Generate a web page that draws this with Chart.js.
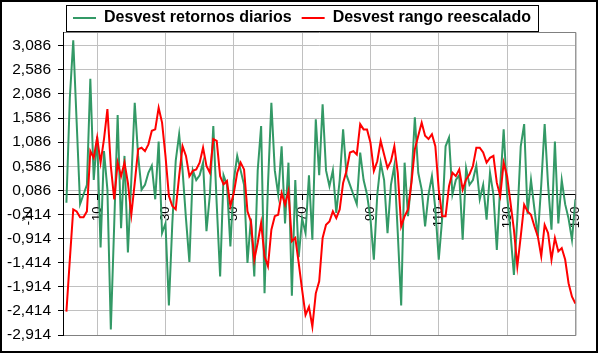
<!DOCTYPE html>
<html><head><meta charset="utf-8">
<script src="https://cdn.jsdelivr.net/npm/chart.js@4/dist/chart.umd.min.js"></script>
<style>html,body{margin:0;padding:0;background:#fff;overflow:hidden}#wrap{width:598px;height:353px;position:relative}</style>
</head><body><div id="wrap"><canvas id="c" width="598" height="353"></canvas></div>
<script>
// categories (day index)
const days = Array.from({length: 150}, (_, i) => i + 1);
const seriesNames = ['Desvest retornos diarios', 'Desvest rango reescalado'];
const desvestRetornos = [
 -0.17, 2.0, 3.2, 1.5, -0.2, 0.0, 0.2, 2.4, 0.3, 1.2,
 -1.1, 0.9, 0.1, -2.8, -0.6, 1.65, -0.7, 0.8, -1.2, 0.3,
 1.9, 0.8, 0.1, 0.2, 0.45, 0.6, -0.1, 1.1, -0.8, -0.6,
 -2.3, -0.6, 0.7, 1.25, 0.5, -0.5, -1.4, 0.5, 0.3, 0.4,
 0.66, -0.76, 0.0, 1.42, -0.2, -1.7, 0.4, 0.2, -1.08, 0.3,
 0.8, 0.5, 0.2, -1.42, -0.5, -1.7, 0.5, 1.42, -2.05, 0.2,
 1.9, 0.5, 0.0, 1.0, -0.6, 0.66, -2.1, 0.3, -1.3, -0.5,
 -0.8, 0.4, -0.94, 1.56, 0.4, 1.87, 0.5, 0.17, 0.5, -0.38,
 0.3, 1.35, 0.4, 0.2, 0.0, -0.2, 0.87, 0.3, 0.0, -0.5,
 -1.35, 0.0, 0.66, 0.3, -0.8, 0.2, 0.6, -0.8, -2.3, 0.66,
 -0.45, 0.3, 1.6, 0.45, 0.1, -0.66, 0.0, 0.38, -0.3, -1.35,
 -0.5, 1.0, 1.18, 0.0, 0.3, 0.4, -0.94, 0.55, 0.2, 0.3,
 0.6, -0.1, 0.2, -0.52, 0.45, 0.0, -1.15, 0.2, 1.35, 0.0,
 -0.8, -1.67, -0.5, 1.0, 1.46, -0.4, 0.3, -0.3, -0.87, 0.2,
 1.46, 0.2, -0.73, 1.1, -0.6, 0.3, -0.2, -0.5, -0.94, -0.1
];
const desvestRango = [
 -2.43, -1.35, -0.31, -0.35, -0.47, -0.47, -0.35, 0.9, 0.76, 1.18,
 0.66, 1.15, 1.77, 0.59, -0.1, 0.66, 0.38, 0.66, 0.24, -0.42,
 0.24, 0.94, 0.97, 0.9, 1.04, 1.32, 1.35, 1.8, 1.49, 0.8,
 -0.03, -0.24, -0.31, 0.38, 1.0, 0.8, 0.38, 0.49, 0.52, 0.66,
 0.97, 0.59, 0.45, 1.15, 1.11, 0.38, 0.21, 0.28, -0.24, 0.03,
 0.45, 0.66, 0.52, -0.35, -0.56, -1.35, -1.0, -0.59, -1.28, -1.49,
 -0.73, -0.45, -0.42, 0.03, -0.21, 0.07, -0.97, -0.9, -1.42, -1.98,
 -2.5, -2.33, -2.74, -2.05, -1.8, -0.9, -0.63, -0.56, -0.35, -0.49,
 -0.31, 0.24, 0.49, 0.87, 0.9, 0.83, 1.46, 1.35, 1.35, 1.08,
 0.49, 0.69, 1.11, 0.83, 0.55, 0.69, 1.0, 0.45, -0.66, -0.45,
 -0.31, 0.24, 0.94, 1.22, 1.49, 1.22, 1.15, 1.25, 1.0, 0.1,
 -0.45, -0.45, 0.17, 0.45, 0.38, 0.52, 0.1, 0.31, 0.42, 0.59,
 0.97, 0.97, 0.87, 0.66, 0.76, 0.8, 0.24, -0.03, 0.66, 0.38,
 -0.17, -0.73, -1.49, -0.87, -0.21, -0.35, -0.42, -0.66, -0.87, -1.28,
 -0.63, -0.8, -1.35, -0.9, -1.18, -1.11, -1.35, -1.84, -2.12, -2.26
];
const yTicks = [-2.914, -2.414, -1.914, -1.414, -0.914, -0.414, 0.086, 0.586, 1.086, 1.586, 2.086, 2.586, 3.086];
const xTicks = [-10, 10, 30, 50, 70, 90, 110, 130, 150];

const FONT = "'Liberation Sans', Arial, sans-serif";
const fmtY = v => v.toFixed(3).replace('.', ',');

const bgPlugin = {
  id: 'bg',
  beforeDraw(chart) {
    const c = chart.ctx;
    c.save(); c.fillStyle = '#fff'; c.fillRect(0, 0, chart.width, chart.height); c.restore();
  }
};
const framePlugin = {
  id: 'frame',
  afterLayout(chart) {
    // centre the legend row over the same span as in the reference
    if (chart.legend) { chart.legend.left = 24; }
  },
  beforeDatasetsDraw(chart) {
    const c = chart.ctx, a = chart.chartArea;
    c.save();
    c.strokeStyle = '#808080'; c.lineWidth = 1;
    c.beginPath();
    c.moveTo(a.left, a.top + 0.5);
    c.lineTo(a.right + 0.5, a.top + 0.5);
    c.lineTo(a.right + 0.5, a.bottom + 0.5);
    c.lineTo(a.left, a.bottom + 0.5);
    c.stroke();
    c.strokeStyle = '#000';
    c.beginPath();
    c.moveTo(a.left + 0.5, a.top);
    c.lineTo(a.left + 0.5, a.bottom + 1);
    c.stroke();
    c.restore();
  },
  afterDraw(chart) {
    const c = chart.ctx;
    c.save();
    // outer border
    c.strokeStyle = '#000'; c.lineWidth = 2;
    c.strokeRect(1, 1, 596, 351);
    // legend border
    const hb = chart.legend.legendHitBoxes;
    if (hb && hb.length) {
      const l = Math.min(...hb.map(h => h.left)) - 7;
      const r = Math.max(...hb.map(h => h.left + h.width)) + 7;
      c.lineWidth = 1;
      c.strokeRect(Math.round(l) + 0.5, 5.5, Math.round(r - l), 26);
    }
    // the out-of-range first category label
    const xs = chart.scales.x, ys = chart.scales.y;
    const x = xs.getPixelForValue(xTicks[0]);
    const y = ys.getPixelForValue(0) + 5 + 7;
    c.translate(x, y);
    c.rotate(-Math.PI / 2);
    c.font = '13px ' + FONT;
    c.fillStyle = '#000';
    c.textAlign = 'right';
    c.textBaseline = 'middle';
    c.fillText(String(xTicks[0]), 0, 0);
    c.restore();
  }
};

new Chart(document.getElementById('c'), {
  type: 'line',
  data: {
    labels: days,
    datasets: [
      { label: seriesNames[0], data: desvestRetornos, borderColor: '#339966', backgroundColor: '#339966',
        borderWidth: 2, pointRadius: 0, tension: 0, order: 2 },
      { label: seriesNames[1], data: desvestRango, borderColor: '#ff0000', backgroundColor: '#ff0000',
        borderWidth: 2, pointRadius: 0, tension: 0, order: 1 }
    ]
  },
  options: {
    responsive: false, animation: false, devicePixelRatio: 1,
    layout: { padding: { left: 0, right: 18, top: 0, bottom: 18 } },
    plugins: {
      legend: {
        position: 'top', maxHeight: 32,
        labels: {
          usePointStyle: true, pointStyle: 'line', pointStyleWidth: 23, padding: 10,
          color: '#000', font: { family: FONT, size: 16, weight: 'bold' },
          sort: (a, b) => a.datasetIndex - b.datasetIndex
        }
      },
      tooltip: { enabled: false }
    },
    scales: {
      x: {
        type: 'linear', min: 0, max: 150, position: { y: 0 },
        afterBuildTicks: s => { s.ticks = xTicks.filter(v => v >= 0).map(v => ({ value: v })); },
        grid: { color: '#c0c0c0', lineWidth: 1, tickLength: 5, tickColor: '#000' },
        border: { color: '#000', width: 1 },
        ticks: { minRotation: 90, maxRotation: 90, padding: 7, autoSkip: false, color: '#000',
                 font: { family: FONT, size: 13 }, callback: v => String(v) }
      },
      y: {
        min: -2.914, max: 3.37,
        afterBuildTicks: s => { s.ticks = yTicks.map(v => ({ value: v })); },
        afterFit: s => { s.width = 63; },
        grid: { color: '#c0c0c0', lineWidth: 1, tickLength: 5, tickColor: '#000' },
        border: { color: '#000', width: 1 },
        ticks: { padding: 7, autoSkip: false, color: '#000', font: { family: FONT, size: 15.5 },
                 callback: v => fmtY(v) }
      }
    }
  },
  plugins: [bgPlugin, framePlugin]
});
</script></body></html>
